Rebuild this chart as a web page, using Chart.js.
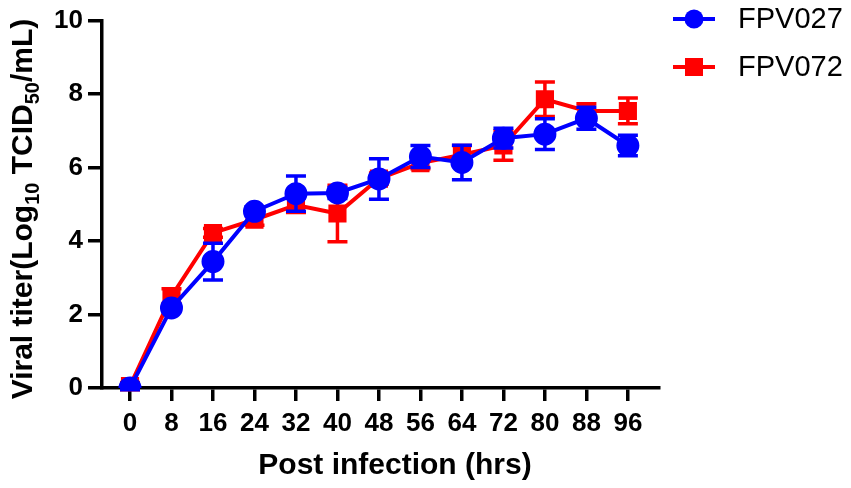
<!DOCTYPE html>
<html><head><meta charset="utf-8">
<script src="https://cdn.jsdelivr.net/npm/chart.js@4.4.0/dist/chart.umd.min.js"></script>
<style>html,body{margin:0;padding:0;background:#fff}#wrap{width:851px;height:488px}</style>
</head><body><div id="wrap"><canvas id="c" width="851" height="488"></canvas></div>
<script>
const hours = [0, 8, 16, 24, 32, 40, 48, 56, 64, 72, 80, 88, 96];
const fpv027 = [0.0, 2.18, 3.44, 4.81, 5.29, 5.31, 5.69, 6.3, 6.14, 6.8, 6.91, 7.34, 6.6];
const fpv027Err = [0.05, 0.1, 0.5, 0.12, 0.48, 0.15, 0.55, 0.3, 0.47, 0.27, 0.42, 0.3, 0.28];
const fpv072 = [0.05, 2.5, 4.22, 4.58, 4.98, 4.75, 5.7, 6.12, 6.35, 6.6, 7.86, 7.54, 7.54];
const fpv072Err = [0.1, 0.2, 0.12, 0.15, 0.2, 0.77, 0.15, 0.15, 0.25, 0.4, 0.47, 0.2, 0.35];
const yTicks = [0, 2, 4, 6, 8, 10];
const BLUE = '#0000ff', RED = '#ff0000';
const errs = [fpv027Err, fpv072Err];
const FONT = '"Liberation Sans", Arial, sans-serif';

const errorBars = {
  id: 'errorBars',
  beforeDatasetDraw(chart, args) {
    const ctx = chart.ctx, x = chart.scales.x, y = chart.scales.y;
    const ds = chart.data.datasets[args.index];
    const e = errs[args.index];
    ctx.save();
    ctx.strokeStyle = ds.borderColor; ctx.lineWidth = 3.5; ctx.lineCap = 'butt';
    ds.data.forEach((p, i) => {
      const px = x.getPixelForValue(p.x);
      const top = y.getPixelForValue(p.y + e[i]);
      const bot = y.getPixelForValue(p.y - e[i]);
      ctx.beginPath();
      ctx.moveTo(px, top); ctx.lineTo(px, bot);
      ctx.moveTo(px - 10, top); ctx.lineTo(px + 10, top);
      ctx.moveTo(px - 10, bot); ctx.lineTo(px + 10, bot);
      ctx.stroke();
    });
    ctx.restore();
  }
};

const titles = {
  id: 'titles',
  afterDraw(chart) {
    const ctx = chart.ctx;
    ctx.save();
    ctx.fillStyle = '#000';
    // x title
    ctx.font = 'bold 30px ' + FONT;
    ctx.textAlign = 'center'; ctx.textBaseline = 'middle';
    ctx.fillText('Post infection (hrs)', 395, 466);
    // y title with subscripts
    const parts = [['Viral titer(Log', false], ['10', true], [' TCID', false], ['50', true], ['/mL)', false]];
    const big = 'bold 30px ' + FONT;
    const small = 'bold 20px ' + FONT;
    let total = 0;
    parts.forEach(([t, s]) => { ctx.font = s ? small : big; total += ctx.measureText(t).width; });
    ctx.translate(24, 209);
    ctx.rotate(-Math.PI / 2);
    ctx.textAlign = 'left'; ctx.textBaseline = 'middle';
    let cx = -total / 2;
    parts.forEach(([t, s]) => {
      ctx.font = s ? small : big;
      ctx.fillText(t, cx, s ? 9 : 0);
      cx += ctx.measureText(t).width;
    });
    ctx.restore();
    // legend
    ctx.save();
    const items = [['FPV027', BLUE, 'circle', 19], ['FPV072', RED, 'rect', 67]];
    items.forEach(([label, col, shape, yy]) => {
      ctx.strokeStyle = col; ctx.fillStyle = col; ctx.lineWidth = 4;
      ctx.beginPath(); ctx.moveTo(673, yy); ctx.lineTo(715, yy); ctx.stroke();
      if (shape === 'circle') { ctx.beginPath(); ctx.arc(694, yy, 9.5, 0, Math.PI * 2); ctx.fill(); }
      else { ctx.fillRect(685, yy - 9, 18, 18); }
      ctx.fillStyle = '#000';
      ctx.font = '29px ' + FONT;
      ctx.textAlign = 'left'; ctx.textBaseline = 'middle';
      ctx.fillText(label, 738, yy + 1);
    });
    ctx.restore();
  }
};

const mk = (arr) => hours.map((h, i) => ({ x: h, y: arr[i] }));

new Chart(document.getElementById('c'), {
  type: 'line',
  data: {
    datasets: [
      { label: 'FPV027', data: mk(fpv027), borderColor: BLUE, backgroundColor: BLUE,
        borderWidth: 4, pointStyle: 'circle', pointRadius: 9.5, pointHoverRadius: 9.5, tension: 0 },
      { label: 'FPV072', data: mk(fpv072), borderColor: RED, backgroundColor: RED,
        borderWidth: 4, pointStyle: 'rect', pointRadius: 10, pointHoverRadius: 10, tension: 0 }
    ]
  },
  options: {
    responsive: false, animation: false, devicePixelRatio: 1,
    layout: { padding: { left: 0, right: 192, top: 19, bottom: 0 } },
    plugins: { legend: { display: false }, tooltip: { enabled: false } },
    scales: {
      x: {
        type: 'linear', min: -5.4, max: 102,
        afterBuildTicks: (axis) => { axis.ticks = hours.map(v => ({ value: v })); },
        afterFit: (axis) => { axis.height = 100; },
        border: { display: true, color: '#000', width: 3.5 },
        grid: { display: true, drawOnChartArea: false, drawTicks: true, tickLength: 13, color: '#000', lineWidth: 3.5 },
        ticks: { color: '#000', padding: 7, maxRotation: 0, autoSkip: false,
          font: { family: FONT, size: 26, weight: 'bold' } }
      },
      y: {
        type: 'linear', min: 0, max: 10,
        afterBuildTicks: (axis) => { axis.ticks = yTicks.map(v => ({ value: v })); },
        afterFit: (axis) => { axis.width = 102; },
        border: { display: true, color: '#000', width: 3.5 },
        grid: { display: true, drawOnChartArea: false, drawTicks: true, tickLength: 14, color: '#000', lineWidth: 3.5 },
        ticks: { color: '#000', padding: 5,
          font: { family: FONT, size: 26, weight: 'bold' } }
      }
    }
  },
  plugins: [errorBars, titles]
});
</script></body></html>
